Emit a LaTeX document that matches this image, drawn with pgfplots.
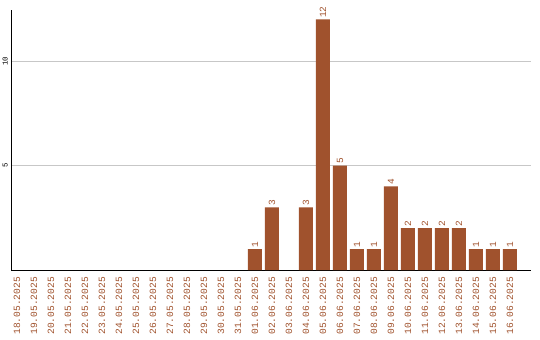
\documentclass[border=0pt]{standalone}
\usepackage{fontspec}
\setmainfont{Liberation Mono}
\usepackage{pgfplots}
\pgfplotsset{compat=1.18}
\definecolor{barc}{HTML}{A0522D}
\begin{document}
\begin{tikzpicture}
\useasboundingbox (-11bp,-70bp) rectangle (529bp,270bp);
\begin{axis}[
  at={(0,0)}, anchor=south west,
  scale only axis, width=520bp, height=260bp,
  axis lines*=left,
  axis line style={black, line width=0.9pt},
  xmin=-0.35, xmax=30.24, ymin=0, ymax=12.45,
  ybar, bar width=14bp,
  major tick length=0pt,
  /pgf/number format/assume math mode=true,
  xtick={0,...,29},
  xticklabels={18.05.2025,19.05.2025,20.05.2025,21.05.2025,22.05.2025,23.05.2025,24.05.2025,25.05.2025,26.05.2025,27.05.2025,28.05.2025,29.05.2025,30.05.2025,31.05.2025,01.06.2025,02.06.2025,03.06.2025,04.06.2025,05.06.2025,06.06.2025,07.06.2025,08.06.2025,09.06.2025,10.06.2025,11.06.2025,12.06.2025,13.06.2025,14.06.2025,15.06.2025,16.06.2025},
  x tick label style={yshift=-6bp, rotate=90, anchor=east, text=barc, font=\fontsize{9.6}{10}\selectfont, inner sep=1pt},
  ytick={5,10},
  y tick label style={xshift=-2bp, rotate=90, anchor=south, font=\fontsize{7.5}{8}\selectfont, inner sep=1pt},
  ymajorgrids, grid style={black!22, line width=0.8pt},
  nodes near coords,
  every node near coord/.append style={rotate=90, anchor=west, text=barc, font=\fontsize{9.5}{10}\selectfont, inner sep=1.5pt},
]
\addplot[fill=barc, draw=none] coordinates {
 (14,1) (15,3) (17,3) (18,12) (19,5) (20,1) (21,1) (22,4) (23,2) (24,2) (25,2) (26,2) (27,1) (28,1) (29,1)
};
\end{axis}
\end{tikzpicture}
\end{document}
